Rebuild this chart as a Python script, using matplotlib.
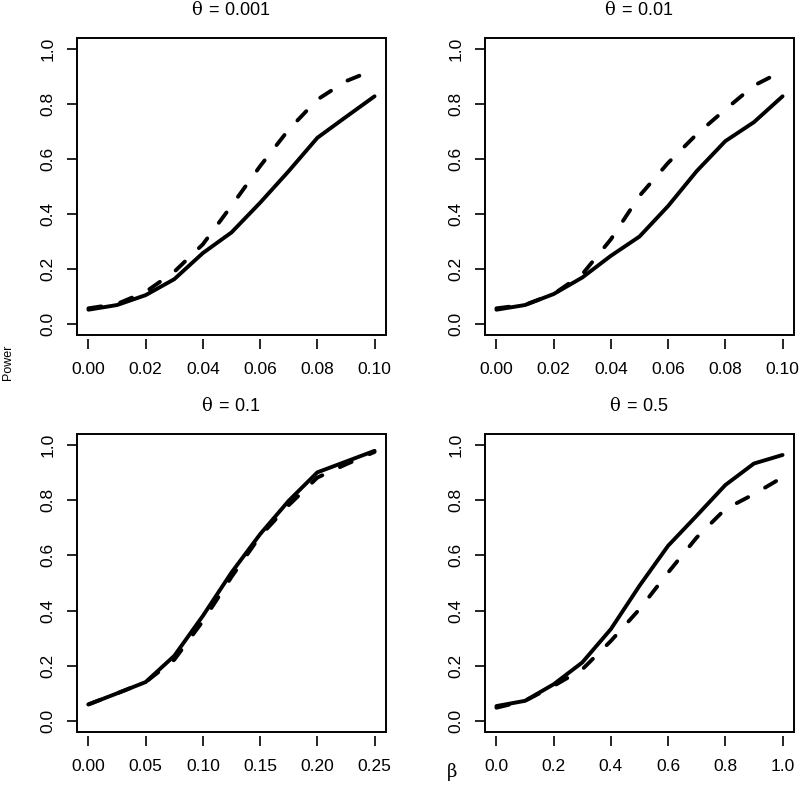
import matplotlib
matplotlib.use("Agg")
import matplotlib.pyplot as plt
from matplotlib.patches import Rectangle

plt.rcParams['font.family'] = ['Liberation Sans', 'DejaVu Sans']
plt.rcParams['mathtext.fontset'] = 'custom'
plt.rcParams['mathtext.rm'] = 'Liberation Sans'
plt.rcParams['mathtext.it'] = 'DejaVu Serif'

# ---- data ----
titles = [r'$\theta\mathrm{\,=\,0.001}$', r'$\theta\mathrm{\,=\,0.01}$',
          r'$\theta\mathrm{\,=\,0.1}$', r'$\theta\mathrm{\,=\,0.5}$']

beta_1 = [0.00, 0.01, 0.02, 0.03, 0.04, 0.05, 0.06, 0.07, 0.08, 0.09, 0.10]
solid_1 = [0.052, 0.069, 0.105, 0.163, 0.258, 0.333, 0.441, 0.556, 0.677, 0.753, 0.828]
dashed_1 = [0.057, 0.073, 0.117, 0.190, 0.290, 0.430, 0.574, 0.707, 0.816, 0.883, 0.925]

beta_2 = [0.00, 0.01, 0.02, 0.03, 0.04, 0.05, 0.06, 0.07, 0.08, 0.09, 0.10]
solid_2 = [0.052, 0.069, 0.109, 0.169, 0.248, 0.318, 0.429, 0.556, 0.665, 0.734, 0.828]
dashed_2 = [0.057, 0.070, 0.109, 0.181, 0.308, 0.466, 0.586, 0.690, 0.780, 0.867, 0.920]

beta_3 = [0.000, 0.025, 0.050, 0.075, 0.100, 0.125, 0.150, 0.175, 0.200, 0.225, 0.250]
solid_3 = [0.060, 0.100, 0.141, 0.236, 0.381, 0.538, 0.677, 0.798, 0.901, 0.940, 0.979]
dashed_3 = [0.060, 0.100, 0.141, 0.222, 0.362, 0.522, 0.670, 0.782, 0.882, 0.930, 0.975]

beta_4 = [0.0, 0.1, 0.2, 0.3, 0.4, 0.5, 0.6, 0.7, 0.8, 0.9, 1.0]
solid_4 = [0.054, 0.073, 0.133, 0.212, 0.333, 0.490, 0.635, 0.744, 0.855, 0.933, 0.964]
dashed_4 = [0.048, 0.073, 0.127, 0.187, 0.290, 0.405, 0.538, 0.665, 0.768, 0.822, 0.883]

xticks = [[0.00, 0.02, 0.04, 0.06, 0.08, 0.10],
          [0.00, 0.02, 0.04, 0.06, 0.08, 0.10],
          [0.00, 0.05, 0.10, 0.15, 0.20, 0.25],
          [0.0, 0.2, 0.4, 0.6, 0.8, 1.0]]
xticklabels = [['0.00', '0.02', '0.04', '0.06', '0.08', '0.10'],
               ['0.00', '0.02', '0.04', '0.06', '0.08', '0.10'],
               ['0.00', '0.05', '0.10', '0.15', '0.20', '0.25'],
               ['0.0', '0.2', '0.4', '0.6', '0.8', '1.0']]
yticks = [0.0, 0.2, 0.4, 0.6, 0.8, 1.0]
yticklabels = ['0.0', '0.2', '0.4', '0.6', '0.8', '1.0']

betas = [beta_1, beta_2, beta_3, beta_4]
solids = [solid_1, solid_2, solid_3, solid_4]
dasheds = [dashed_1, dashed_2, dashed_3, dashed_4]

W, H = 800, 810
fig = plt.figure(figsize=(W / 100, H / 100), dpi=100)

# axes boxes in pixels: (left, top, right, bottom)
boxes = [(77, 38, 386, 335), (485, 38, 794, 335),
         (77, 434, 386, 732), (485, 434, 794, 732)]

lw = 2.8
for i, (l, t, r, b) in enumerate(boxes):
    ax = fig.add_axes([l / W, 1 - b / H, (r - l) / W, (b - t) / H])
    xs = betas[i]
    xmin, xmax = xs[0], xs[-1]
    pad = 0.04 * (xmax - xmin)
    ax.set_xlim(xmin - pad, xmax + pad)
    ax.set_ylim(-0.04, 1.04)
    ax.plot(xs, solids[i], color='black', lw=lw, solid_capstyle='round',
            solid_joinstyle='round')
    ax.plot(xs, dasheds[i], color='black', lw=lw, linestyle=(0, (3.3, 5.0)),
            dash_capstyle='round', dash_joinstyle='round')
    for s in ax.spines.values():
        s.set_color('none')
    ax.spines['bottom'].set_position(('outward', 3))
    ax.add_patch(Rectangle((0, 0), 1, 1, transform=ax.transAxes, fill=False,
                           edgecolor='black', lw=1.4, clip_on=False, zorder=5))
    ax.set_xticks(xticks[i])
    ax.set_xticklabels(xticklabels[i])
    ax.set_yticks(yticks)
    ax.set_yticklabels(yticklabels, rotation=90, va='center')
    ax.tick_params(axis='both', direction='out', length=7.5, width=1.2,
                   labelsize=12.5, color='black')
    ax.tick_params(axis='x', pad=9)
    ax.tick_params(axis='y', pad=8)
    fig.text((l + r) / 2 / W, 1 - (t - 28) / H, titles[i], ha='center',
             va='center', fontsize=13)

fig.text(8 / W, 1 - 362 / H, 'Power', rotation=90, ha='center', va='center',
         fontsize=9)
fig.text(452 / W, 1 - 772 / H, 'β', ha='center', va='center', fontsize=13,
         family=['DejaVu Serif'])

fig.savefig('out.png', dpi=100, facecolor='white')
